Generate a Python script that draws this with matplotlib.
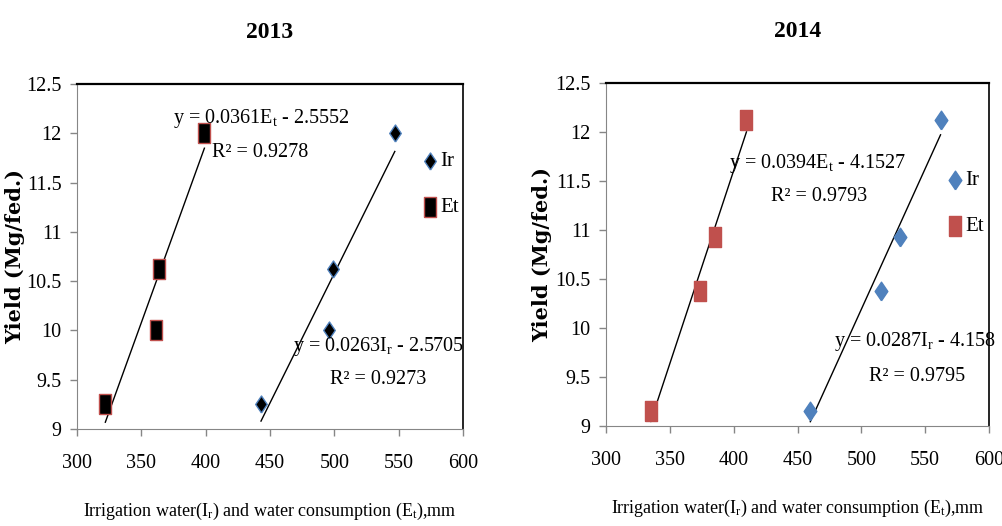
import matplotlib

matplotlib.use("Agg")

import matplotlib.pyplot as plt
import numpy as np

# --- Dados -----------------------------------------------------------------
et_2013 = [322, 361, 364, 399]
ir_2013 = [443, 496, 499, 547]
yield_2013 = [9.25, 10.0, 10.62, 12.0]

et_2014 = [335, 374, 385, 410]
ir_2014 = [460, 515, 530, 562]
yield_2014 = [9.15, 10.38, 10.93, 12.12]

# coeficientes das linhas de tendência (a, b) -> y = a*x + b
fit_et_2013 = (0.0361, -2.5552)
fit_ir_2013 = (0.0263, -2.5705)
fit_et_2014 = (0.0394, -4.1527)
fit_ir_2014 = (0.0287, -4.158)

eq_et_2013 = (r"y = 0.0361E$_\mathregular{t}$ - 2.5552", "R² = 0.9278")
eq_ir_2013 = (r"y = 0.0263I$_\mathregular{r}$ - 2.5705", "R² = 0.9273")
eq_et_2014 = (r"y = 0.0394E$_\mathregular{t}$ - 4.1527", "R² = 0.9793")
eq_ir_2014 = (r"y = 0.0287I$_\mathregular{r}$ - 4.158", "R² = 0.9795")

xticks = [300, 350, 400, 450, 500, 550, 600]
yticks = [9, 9.5, 10, 10.5, 11, 11.5, 12, 12.5]
ytick_labels = ["9", "9.5", "10", "10.5", "11", "11.5", "12", "12.5"]

plt.rcParams["font.family"] = ["Liberation Serif", "DejaVu Serif"]
plt.rcParams["mathtext.fontset"] = "custom"
plt.rcParams["mathtext.rm"] = "Liberation Serif"
plt.rcParams["mathtext.it"] = "Liberation Serif"

# marcadores estreitos (o original está comprimido na horizontal)
QUADRADO = [(-0.3, -0.5), (0.3, -0.5), (0.3, 0.5), (-0.3, 0.5), (-0.3, -0.5)]
LOSANGO = [(0, -0.5), (0.34, 0), (0, 0.5), (-0.34, 0), (0, -0.5)]
CINZA = "#868686"

fig = plt.figure(figsize=(10.03, 5.26), dpi=100)


def painel(pos, titulo, et, ir, yv, fit_et, fit_ir, eq_et, eq_ir, estilo, txt,
           leg_xy, ylab_x, tam):
    ax = fig.add_axes(pos)
    for fit, xs in ((fit_et, et), (fit_ir, ir)):
        xl = np.array([min(xs), max(xs)])
        ax.plot(xl, fit[0] * xl + fit[1], color="black", lw=1.0, zorder=2)
    ax.scatter(ir, yv, marker=LOSANGO, s=tam[0], facecolor=estilo["ir_fc"],
               edgecolor=estilo["ir_ec"], linewidth=1.0, zorder=3, label="Ir")
    ax.scatter(et, yv, marker=QUADRADO, s=tam[1], facecolor=estilo["et_fc"],
               edgecolor=estilo["et_ec"], linewidth=1.0, zorder=3, label="Et")

    ax.set_xlim(300, 600)
    ax.set_ylim(9, 12.5)
    ax.set_xticks(xticks)
    ax.set_yticks(yticks)
    ax.set_yticklabels(ytick_labels)
    ax.tick_params(direction="out", length=5, width=1, labelsize=14.5, color=CINZA)
    ax.tick_params(axis="x", pad=13)
    ax.tick_params(axis="y", pad=6)
    ax.spines["left"].set_color(CINZA)
    ax.spines["bottom"].set_color(CINZA)
    ax.spines["top"].set_linewidth(1.6)
    ax.spines["right"].set_linewidth(1.2)

    ax.set_title(titulo, fontsize=17, fontweight="bold", pad=33)
    ax.set_ylabel("Yield (Mg/fed.)", fontsize=15, fontweight="bold",
                  family=["DejaVu Serif"])
    ax.yaxis.set_label_coords(ylab_x, 0.5)
    ax.set_xlabel(r"Irrigation water(I$_\mathregular{r}$) and water consumption (E$_\mathregular{t}$),mm",
                  fontsize=13, labelpad=20)

    ax.legend(loc="center left", bbox_to_anchor=leg_xy, frameon=False,
              fontsize=15, handletextpad=0.1, labelspacing=1.25, borderpad=0,
              borderaxespad=0, handlelength=0.8, scatterpoints=1)

    for (tx, ty), linha in zip(txt, eq_et + eq_ir):
        ax.text(tx, ty, linha, fontsize=14.5, ha="center", va="center", zorder=4)
    return ax


estilo_2013 = dict(ir_fc="black", ir_ec="#4f81bd", et_fc="black", et_ec="#c0504d")
estilo_2014 = dict(ir_fc="#4f81bd", ir_ec="#4f81bd", et_fc="#c0504d", et_ec="#c0504d")

painel([0.0768, 0.1844, 0.3848, 0.6559], "2013",
       et_2013, ir_2013, yield_2013, fit_et_2013, fit_ir_2013, eq_et_2013, eq_ir_2013,
       estilo_2013,
       [(443, 12.155), (442, 11.81), (534, 9.84), (534, 9.50)],
       (0.893, 0.709), -0.135, (150, 190))

painel([0.6042, 0.1901, 0.3819, 0.6521], "2014",
       et_2014, ir_2014, yield_2014, fit_et_2014, fit_ir_2014, eq_et_2014, eq_ir_2014,
       estilo_2014,
       [(466, 11.68), (467, 11.34), (542, 9.86), (544, 9.51)],
       (0.889, 0.649), -0.14, (180, 210))

fig.savefig("out.png", dpi=100, facecolor="white")
